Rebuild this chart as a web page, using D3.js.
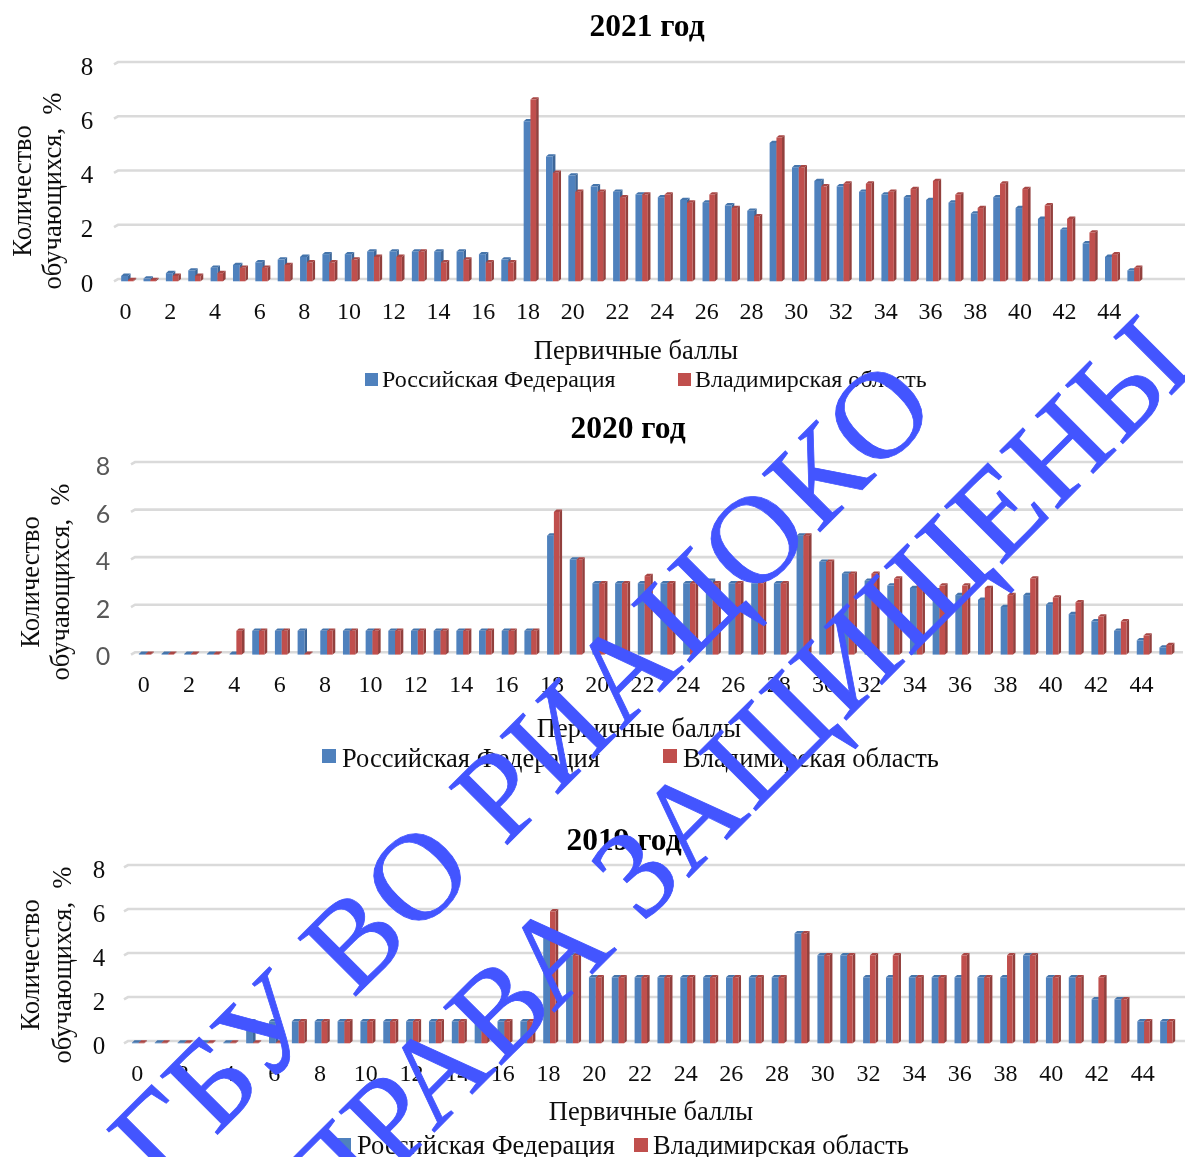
<!DOCTYPE html>
<html lang="ru">
<head>
<meta charset="utf-8">
<script src="https://cdn.jsdelivr.net/npm/d3@7/dist/d3.min.js"></script>
<style>
html,body{margin:0;padding:0;background:#fff;overflow:hidden}
svg{display:block}
text{font-family:"Liberation Serif",serif;fill:#111}
</style>
</head>
<body>
<svg id="c" width="1185" height="1157">
  <defs><filter id="soft" x="0" y="0" width="100%" height="100%"><feGaussianBlur stdDeviation="0.45"/></filter></defs>
</svg>
<script>
const categories = d3.range(0, 46);
const evenTicks = categories.filter(d => d % 2 === 0 && d <= 44);
const yTicks = [0, 2, 4, 6, 8];
const seriesNames = ["Российская Федерация", "Владимирская область"];
const seriesColors = ["#4F81BD", "#C0504D"];
const sideColors = ["#3D6698", "#923F3D"];
const topColors = ["#4474AB", "#A84644"];
const xAxisTitle = "Первичные баллы";
const yAxisLines = ["Количество", "обучающихся,  %"];
const watermarkLines = ["ГБУ ВО РИАЦОКО", "ПРАВА ЗАЩИЩЕНЫ"];

const rf2021 = [0.2,0.1,0.3,0.4,0.5,0.6,0.7,0.8,0.9,1.0,1.0,1.1,1.1,1.1,1.1,1.1,1.0,0.8,5.9,4.6,3.9,3.5,3.3,3.2,3.1,3.0,2.9,2.8,2.6,5.1,4.2,3.7,3.5,3.3,3.2,3.1,3.0,2.9,2.5,3.1,2.7,2.3,1.9,1.4,0.9,0.4];
const vl2021 = [0.05,0.05,0.2,0.2,0.3,0.5,0.5,0.6,0.7,0.7,0.8,0.9,0.9,1.1,0.7,0.8,0.7,0.7,6.7,4.0,3.3,3.3,3.1,3.2,3.2,2.9,3.2,2.7,2.4,5.3,4.2,3.5,3.6,3.6,3.3,3.4,3.7,3.2,2.7,3.6,3.4,2.8,2.3,1.8,1.0,0.5];
const rf2020 = [0.03,0.03,0.03,0.03,0.03,1,1,1,1,1,1,1,1,1,1,1,1,1,5,4,3,3,3,3,3,3.1,3,3,3,5,3.9,3.4,3.1,2.9,2.8,2.7,2.5,2.3,2.0,2.5,2.1,1.7,1.4,1.0,0.6,0.3];
const vl2020 = [0.03,0.03,0.03,0.03,1,1,1,0.03,1,1,1,1,1,1,1,1,1,1,6,4,3,3,3.3,3,3,3,3,3,3,5,3.9,3.4,3.4,3.2,3.0,2.9,2.9,2.8,2.5,3.2,2.4,2.2,1.6,1.4,0.8,0.4];
const rf2019 = [0.03,0.03,0.03,0.03,0.03,1,1,1,1,1,1,1,1,1,1,1,1,1,5,4,3,3,3,3,3,3,3,3,3,5,4,4,3,3,3,3,3,3,3,4,3,3,2,2,1,1];
const vl2019 = [0.03,0.03,0.03,0.03,0.03,0.03,0.03,1,1,1,1,1,1,1,1,1,1,1,6,4,3,3,3,3,3,3,3,3,3,5,4,4,4,4,3,3,4,3,4,4,3,3,3,2,1,1];

const svg = d3.select("#c");

function chart(o) {
  const g = svg.append("g").attr("filter", "url(#soft)");
  const x = d3.scaleBand().domain(categories).range([o.x0, o.x0 + o.step * categories.length]).padding(0);
  const y = d3.scaleLinear().domain([0, 8]).range([o.y0, o.y8]);
  const d = 2.3, dx = 2.6, wB = 6.8, wR = 5.6;

  g.append("g").selectAll("path").data(yTicks).join("path")
    .attr("fill", "none").attr("stroke", "#DADADA").attr("stroke-width", 2.6)
    .attr("d", t => `M${o.gridL},${y(t) + d}L${o.gridL + 4},${y(t)}L${o.gridR},${y(t)}`);

  const pair = categories.map(i => [o.a[i], o.b[i]]);
  const cat = g.append("g").selectAll("g").data(pair).join("g");
  [0, 1].forEach(s => {
    const left = (i) => x(i) + x.bandwidth() / 2 - (s === 0 ? wB : 0);
    const w = s === 0 ? wB : wR;
    const bar = cat.append("g");
    bar.append("path").attr("fill", sideColors[s]).attr("d", (p, i) => {
      const l = left(i) + w, t = y(p[s]) + d, b = y(0) + d;
      return `M${l},${t}L${l + dx},${t - d}L${l + dx},${b - d}L${l},${b}Z`;
    });
    bar.append("path").attr("fill", topColors[s]).attr("d", (p, i) => {
      const l = left(i), t = y(p[s]) + d;
      return `M${l},${t}L${l + w},${t}L${l + w + dx},${t - d}L${l + dx},${t - d}Z`;
    });
    bar.append("rect").attr("fill", seriesColors[s])
      .attr("x", (p, i) => left(i)).attr("width", w)
      .attr("y", p => y(p[s]) + d).attr("height", p => y(0) - y(p[s]));
  });

  const ax = g.append("g").attr("transform", `translate(${o.xTickShift},${o.xTickY})`)
    .call(d3.axisBottom(x).tickValues(evenTicks).tickSize(0).tickPadding(0));
  ax.select(".domain").remove();
  ax.selectAll("text").attr("font-size", o.tickFs).attr("font-family", "Liberation Serif").style("fill", "#111").attr("dy", 0).attr("y", 0);

  const ay = g.append("g").attr("transform", `translate(${o.yTickX},0)`)
    .call(d3.axisLeft(y).tickValues(yTicks).tickSize(0).tickPadding(0));
  ay.select(".domain").remove();
  ay.selectAll("text").attr("font-size", o.yFs).attr("font-family", o.yFont).style("font-family", o.yFont).style("fill", o.yColor)
    .attr("text-anchor", "middle").attr("dy", 0).attr("y", o.yTickDy).attr("x", 0);

  g.append("text").text(o.title).attr("x", o.titleX).attr("y", o.titleY).attr("text-anchor", "middle")
    .attr("font-size", o.titleFs).attr("font-weight", 700).style("fill", "#000");
  g.append("text").text(xAxisTitle).attr("x", o.xtX).attr("y", o.xtY).attr("text-anchor", "middle").attr("font-size", o.xtFs);
  yAxisLines.forEach((t, i) => {
    g.append("text").text(t).attr("text-anchor", "middle").attr("font-size", o.ytFs)
      .style("white-space", "pre")
      .attr("transform", `translate(${o.ytX[i]},${o.ytY}) rotate(-90)`);
  });

  seriesNames.forEach((t, i) => {
    g.append("rect").attr("x", o.lgS[i]).attr("y", o.lgSy).attr("width", o.lgSw).attr("height", o.lgSw).attr("fill", seriesColors[i]);
    g.append("text").text(t).attr("x", o.lgT[i]).attr("y", o.lgY).attr("font-size", o.lgFs);
  });
}

chart({ title: "2021 год", a: rf2021, b: vl2021, x0: 116.8, step: 22.36, y0: 279, y8: 62, gridL: 114, gridR: 1185,
  xTickShift: -2.5, xTickY: 319, tickFs: 24, yTickX: 87, yTickDy: 12, yFs: 25, yFont: "Liberation Serif", yColor: "#111",
  titleX: 647, titleY: 36, titleFs: 31.5, xtX: 636, xtY: 358.5, xtFs: 26.5, ytFs: 26.5, ytX: [31, 61], ytY: 191,
  lgS: [365, 678], lgSy: 373, lgSw: 13, lgT: [382, 695], lgY: 387, lgFs: 24 });
chart({ title: "2020 год", a: rf2020, b: vl2020, x0: 134.3, step: 22.68, y0: 652.3, y8: 462, gridL: 131, gridR: 1183,
  xTickShift: -2, xTickY: 692, tickFs: 24, yTickX: 103, yTickDy: 12.5, yFs: 25, yFont: "Lato", yColor: "#595959",
  titleX: 628, titleY: 438, titleFs: 31.5, xtX: 639, xtY: 737, xtFs: 26.5, ytFs: 26.5, ytX: [39, 69], ytY: 582,
  lgS: [322, 663], lgSy: 749, lgSw: 14, lgT: [342, 683], lgY: 767, lgFs: 26.5 });
chart({ title: "2019 год", a: rf2019, b: vl2019, x0: 127.3, step: 22.85, y0: 1041, y8: 865, gridL: 124, gridR: 1185,
  xTickShift: -1.5, xTickY: 1081, tickFs: 24, yTickX: 99, yTickDy: 12.5, yFs: 25, yFont: "Liberation Serif", yColor: "#111",
  titleX: 624, titleY: 850, titleFs: 31.5, xtX: 651, xtY: 1120, xtFs: 26.5, ytFs: 26.5, ytX: [39, 71], ytY: 965,
  lgS: [337, 634], lgSy: 1138, lgSw: 14, lgT: [357, 653], lgY: 1153.5, lgFs: 26.5 });

const wm = svg.append("g");
[[162, 1190, 2.8], [329, 1237.5, 2]].forEach((p, i) => {
  wm.append("text").text(watermarkLines[i]).attr("font-size", 125).attr("letter-spacing", p[2])
    .style("fill", "#4355FF").style("stroke", "#4355FF").style("stroke-width", 0.8)
    .attr("transform", `translate(${p[0]},${p[1]}) rotate(-45)`);
});
</script>
</body>
</html>
